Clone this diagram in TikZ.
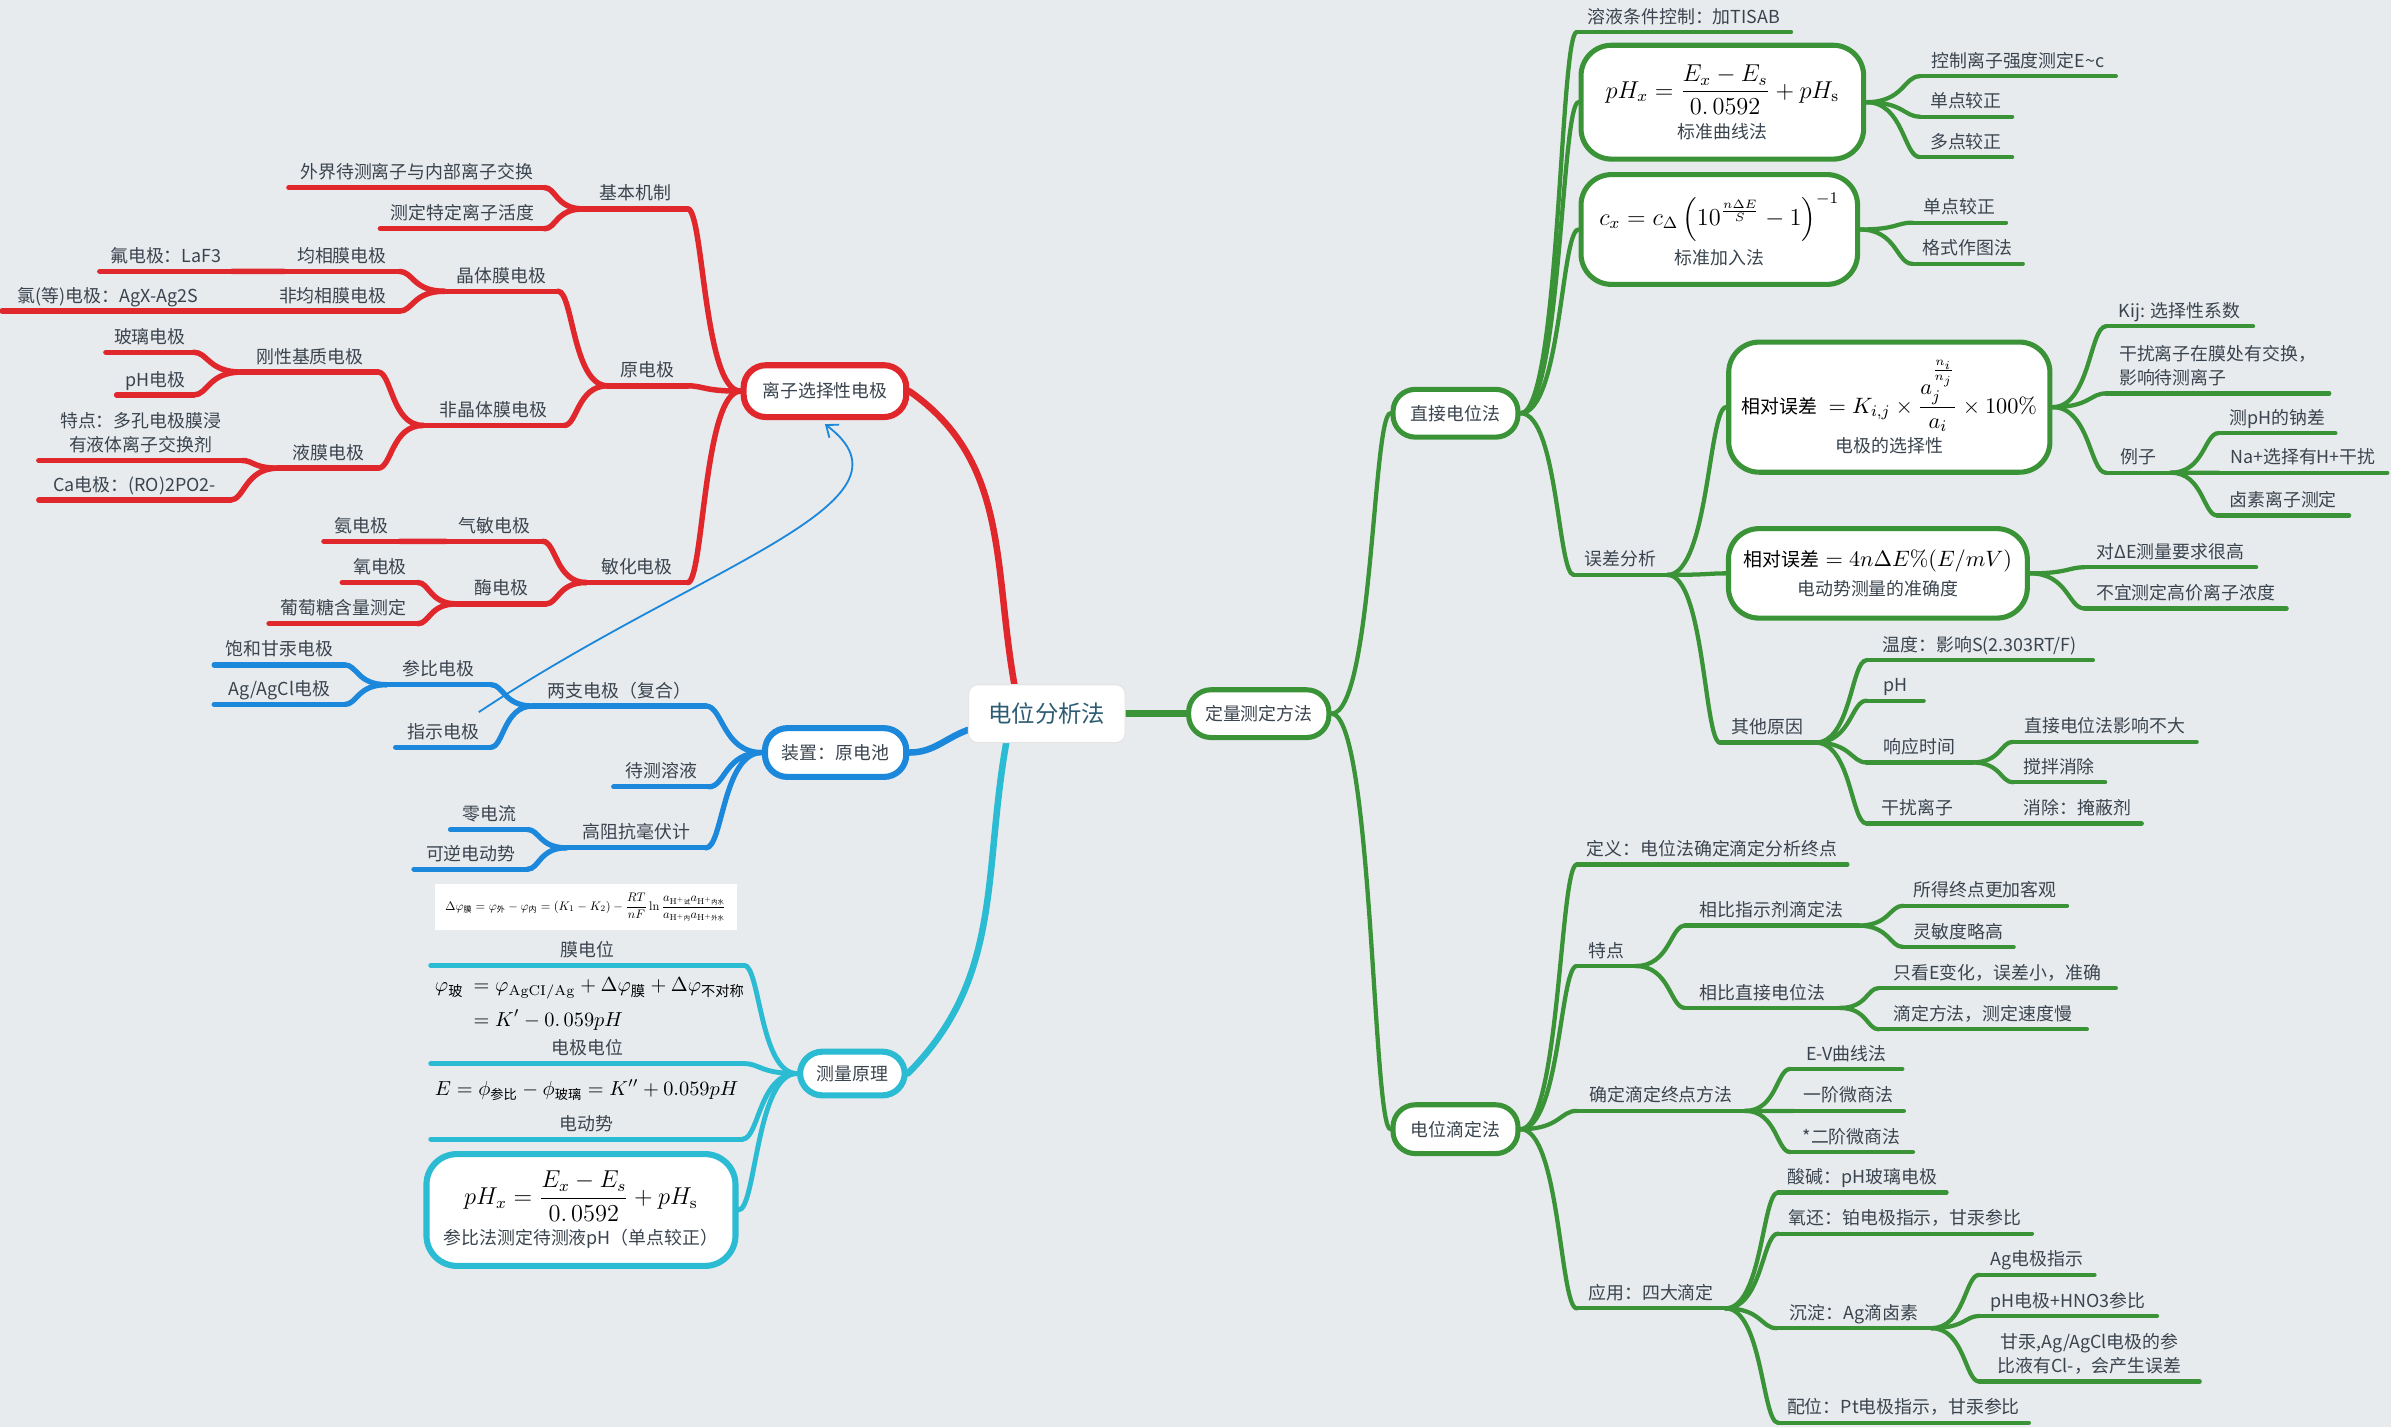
\documentclass[tikz,border=0pt]{standalone}
\usepackage[no-math]{fontspec}
\usepackage{amsmath}
\setmainfont{Noto Sans CJK SC}
\usetikzlibrary{arrows.meta,calc,backgrounds}
\definecolor{bgc}{HTML}{E8EBEE}
\definecolor{txt}{HTML}{3A444E}
\definecolor{ctxt}{HTML}{2D5B72}
\definecolor{myred}{HTML}{E0282C}
\definecolor{myblue}{HTML}{1C88DC}
\definecolor{mycyan}{HTML}{2BBBD2}
\definecolor{mygreen}{HTML}{3A9336}
\newcommand{\tpf}{\fontsize{8.8pt}{12pt}\selectfont}
\newcommand{\cjm}[1]{\mbox{\fontsize{9.3pt}{10pt}\selectfont #1}}
\newcommand{\cjs}[2][7pt]{\mbox{\fontsize{#1}{#1}\selectfont #2}}
\newcommand{\fml}[1]{\fontsize{#1}{14pt}\selectfont\color{black}}
% formulas
\newcommand{\fdphi}{\resizebox{138pt}{!}{\fontsize{10pt}{12pt}\selectfont$\displaystyle \Delta\varphi_{\cjs[6.5pt]{膜}}=\varphi_{\cjs[6.5pt]{外}}-\varphi_{\cjs[6.5pt]{内}}=(K_1-K_2)-\frac{RT}{nF}\ln\frac{a_{\mathrm{H^+}\cjs[5pt]{试}}a_{\mathrm{H^+}\cjs[5pt]{内水}}}{a_{\mathrm{H^+}\cjs[5pt]{内}}a_{\mathrm{H^+}\cjs[5pt]{外水}}}$}}
\newcommand{\fglass}{{\fml{10pt}$\begin{aligned}\varphi_{\cjs{玻}}\ &=\varphi_{\mathrm{AgCI/Ag}}+\Delta\varphi_{\cjs{膜}}+\Delta\varphi_{\cjs{不对称}}\\&=K'-0.\,059pH\end{aligned}$}}
\newcommand{\femf}{{\fml{9.8pt}$E=\phi_{\cjs[6.5pt]{参比}}-\phi_{\cjs[6.5pt]{玻璃}}=K''+0.059pH$}}
\newcommand{\fphx}{{\fml{12pt}$\displaystyle pH_x=\frac{E_x-E_s}{0.\,0592}+pH_{\mathrm{s}}$}}
\newcommand{\fadd}{{\fml{12pt}$\displaystyle c_x=c_\Delta\left(10^{\frac{n\Delta E}{S}}-1\right)^{-1}$}}
\newcommand{\fsel}{{\fml{11.3pt}$\displaystyle \cjm{相对误差}\ =K_{i,j}\times\frac{a_j^{\frac{n_i}{n_j}}}{a_i}\times100\%$}}
\newcommand{\facc}{{\fml{11pt}$\cjm{相对误差}=4n\Delta E\%(E/mV)$}}
\tikzset{
  tp/.style   ={font=\tpf,text=txt,inner xsep=3pt,inner ysep=2.6pt,
                text height=6.6pt,text depth=1.6pt},
  lt/.style   ={tp,anchor=south east},
  rt/.style   ={tp,anchor=south west},
  ml/.style   ={text height={},align=center},
  hub/.style  ={draw=#1,line width=3pt,fill=white,rounded corners=11pt,
                font=\tpf,text=txt,inner sep=2pt},
  fbox/.style ={draw=#1,line width=3pt,fill=white,rounded corners=15pt,
                align=center,font=\tpf,text=txt,inner sep=2pt},
  cnode/.style={fill=white,draw=black!10,line width=.6pt,rounded corners=4.5pt,
                minimum width=77pt,minimum height=28.5pt,
                font=\fontsize{11.5pt}{13pt}\selectfont,text=ctxt},
  lnk/.style  ={to path={.. controls ($(\tikztostart)!0.7!(\tikztotarget|-\tikztostart)$)
                and ($(\tikztostart|-\tikztotarget)!0.7!(\tikztotarget)$) .. (\tikztotarget)}},
  rl/.style   ={draw=myred,line width=2.7pt,line cap=round},
  bl/.style   ={draw=myblue,line width=2.6pt,line cap=round},
  cl/.style   ={draw=mycyan,line width=2.4pt,line cap=round},
  gl/.style   ={draw=mygreen,line width=2.1pt,line cap=round},
  arw/.style  ={draw=myblue,line width=.9pt,-{Straight Barb[length=5pt,width=8pt]}},
}

\begin{document}
\begin{tikzpicture}[x=0.75pt,y=-0.75pt]
  \useasboundingbox (0,0) rectangle (1568,936);

  % --- centre ---
  \node[cnode] (cn) at (686.5,468) {电位分析法};

  % --- red branch: ion selective electrodes ---
  \node[hub=myred,minimum width=80pt,minimum height=25.5pt] (r0) at (541,256.5) {离子选择性电极};
  \node[lt,minimum width=51pt] (r1) at (451,137) {基本机制};
  \node[lt,minimum width=125.25pt] (r11) at (357,123) {外界待测离子与内部离子交换};
  \node[lt,minimum width=80.25pt] (r12) at (357,150) {测定特定离子活度};
  \node[lt,minimum width=39pt] (r2) at (451,253) {原电极};
  \node[lt,minimum width=55.5pt] (r21) at (366,191) {晶体膜电极};
  \node[lt,minimum width=56.25pt] (r211) at (262,178) {均相膜电极};
  \node[lt,minimum width=64.5pt] (r2111) at (152,178) {氟电极：LaF3};
  \node[lt,minimum width=65.25pt] (r212) at (262,204) {非均相膜电极};
  \node[lt,minimum width=103.5pt] (r2121) at (140,204) {氯(等)电极：AgX-Ag2S};
  \node[lt,minimum width=69pt] (r22) at (370,279) {非晶体膜电极};
  \node[lt,minimum width=66.75pt] (r221) at (248,244) {刚性基质电极};
  \node[lt,minimum width=42.75pt] (r2211) at (127,231) {玻璃电极};
  \node[lt,minimum width=37.5pt] (r2212) at (127,259) {pH电极};
  \node[lt,minimum width=48.75pt] (r222) at (248,307) {液膜电极};
  \node[lt,ml,minimum width=99.75pt] (r2221) at (159,302) {特点：多孔电极膜浸\\有液体离子交换剂};
  \node[lt,minimum width=93.75pt] (r2222) at (151,328) {Ca电极：(RO)2PO2-};
  \node[lt,minimum width=49.5pt] (r3) at (451,382) {敏化电极};
  \node[lt,minimum width=47.25pt] (r31) at (356,355) {气敏电极};
  \node[lt,minimum width=36.75pt] (r311) at (262,355) {氨电极};
  \node[lt,minimum width=43.5pt] (r32) at (358,396) {酶电极};
  \node[lt,minimum width=36.75pt] (r321) at (274,382) {氧电极};
  \node[lt,minimum width=72.75pt] (r322) at (274,409) {葡萄糖含量测定};

  % --- blue branch: cell ---
  \node[hub=myblue,minimum width=69.5pt,minimum height=24pt] (b0) at (548,493.5) {装置：原电池};
  \node[lt,minimum width=84.75pt] (b1) at (463,463) {两支电极（复合）};
  \node[lt,minimum width=51pt] (b11) at (322,449) {参比电极};
  \node[lt,minimum width=63.75pt] (b111) at (226,436) {饱和甘汞电极};
  \node[lt,minimum width=63.75pt] (b112) at (226,462) {Ag/AgCl电极};
  \node[lt,minimum width=46.5pt] (b12) at (322,490) {指示电极};
  \node[lt,minimum width=46.5pt] (b2) at (465,516) {待测溶液};
  \node[lt,minimum width=68.25pt] (b3) at (463,556) {高阻抗毫伏计};
  \node[lt,minimum width=37.5pt] (b31) at (346,544) {零电流};
  \node[lt,minimum width=55.5pt] (b32) at (346,570) {可逆电动势};
  \coordinate (ast) at (314,467);

  % --- cyan branch: principle ---
  \node[hub=mycyan,minimum width=51.5pt,minimum height=21.5pt] (c0) at (559,704) {测量原理};
  \node[fill=white,inner sep=0pt,minimum width=148.5pt,minimum height=22.5pt] (cimg) at (384,595) {\fdphi};
  \node[lt,minimum width=153.75pt] (c1) at (488,633) {膜电位};
  \node[anchor=west,inner sep=0pt] (cf2) at (285,658) {\fglass};
  \node[lt,minimum width=153.75pt] (c2) at (488,697.5) {电极电位};
  \node[anchor=west,inner sep=0pt] (cf3) at (285,715) {\femf};
  \node[lt,minimum width=153pt] (c3) at (487,747) {电动势};
  \node[fbox=mycyan,minimum width=152pt,minimum height=55pt] (c4) at (381,793.5)
        {\fphx\\[3pt]参比法测定待测液pH（单点较正）};

  % --- green branch: quantitative methods ---
  \node[hub=mygreen,line width=2.5pt,minimum width=69pt,minimum height=23.5pt] (g0) at (825.5,468) {定量测定方法};
  \node[hub=mygreen,line width=2.5pt,minimum width=61.5pt,minimum height=23.5pt] (g1) at (954.5,271) {直接电位法};
  \node[hub=mygreen,line width=2.5pt,minimum width=61.5pt,minimum height=24pt] (g2) at (954.5,740.5) {电位滴定法};

  \node[rt,minimum width=105pt] (g11) at (1034,21) {溶液条件控制：加TISAB};
  \node[fbox=mygreen,line width=2.5pt,minimum width=139pt,minimum height=56pt] (g12) at (1129.5,67)
        {\fphx\\[3pt]标准曲线法};
  \node[rt,minimum width=96pt] (g121) at (1259,50) {控制离子强度测定E\textasciitilde c};
  \node[rt,minimum width=45pt] (g122) at (1259,76.5) {单点较正};
  \node[rt,minimum width=45pt] (g123) at (1259,103) {多点较正};
  \node[fbox=mygreen,line width=2.5pt,minimum width=136pt,minimum height=54pt] (g13) at (1127.5,150.5)
        {\fadd\\[3pt]标准加入法};
  \node[rt,minimum width=45.75pt] (g131) at (1254,146) {单点较正};
  \node[rt,minimum width=54pt] (g132) at (1254,173) {格式作图法};
  \node[rt,minimum width=45.75pt] (g14) at (1032,377) {误差分析};
  \node[fbox=mygreen,line width=2.5pt,minimum width=158pt,minimum height=64pt] (g141) at (1239,267)
        {\fsel\\[2pt]电极的选择性};
  \node[rt,minimum width=72pt] (g1411) at (1381,214) {Kij: 选择性系数};
  \node[rt,ml,align=left,minimum width=109.5pt] (g1412) at (1381,258) {干扰离子在膜处有交换，\\影响待测离子};
  \node[rt,minimum width=31.5pt] (g1413) at (1381,310) {例子};
  \node[rt,minimum width=57pt] (g14131) at (1455,284) {测pH的钠差};
  \node[rt,minimum width=82.5pt] (g14132) at (1455,310) {Na+选择有H+干扰};
  \node[rt,minimum width=64.5pt] (g14133) at (1454,338) {卤素离子测定};
  \node[fbox=mygreen,line width=2.5pt,minimum width=147pt,minimum height=44pt] (g142) at (1231.5,376)
        {\facc\\[2pt]电动势测量的准确度};
  \node[rt,minimum width=84pt] (g1421) at (1367,372) {对ΔE测量要求很高};
  \node[rt,minimum width=99pt] (g1422) at (1367,399) {不宜测定高价离子浓度};
  \node[rt,minimum width=46.5pt] (g143) at (1128,487) {其他原因};
  \node[rt,minimum width=111pt] (g1431) at (1224,433) {温度：影响S(2.303RT/F)};
  \node[rt,minimum width=27.75pt] (g1432) at (1224,459.5) {pH};
  \node[rt,minimum width=51.75pt] (g1433) at (1224,500) {响应时间};
  \node[rt,minimum width=90pt] (g14331) at (1320,486.5) {直接电位法影响不大};
  \node[rt,minimum width=45pt] (g14332) at (1320,513) {搅拌消除};
  \node[rt,minimum width=49.5pt] (g1434) at (1224,540) {干扰离子};
  \node[rt,minimum width=63pt] (g14341) at (1320,540) {消除：掩蔽剂};

  \node[rt,minimum width=132.75pt] (g21) at (1034,567) {定义：电位法确定滴定分析终点};
  \node[rt,minimum width=28.5pt] (g22) at (1034,633.5) {特点};
  \node[rt,minimum width=84.75pt] (g221) at (1105,607) {相比指示剂滴定法};
  \node[rt,minimum width=80.25pt] (g2211) at (1248,594) {所得终点更加客观};
  \node[rt,minimum width=54pt] (g2212) at (1248,621) {灵敏度略高};
  \node[rt,minimum width=75.75pt] (g222) at (1105,661) {相比直接电位法};
  \node[rt,minimum width=116.25pt] (g2221) at (1232,648) {只看E变化，误差小，准确};
  \node[rt,minimum width=102pt] (g2222) at (1232,675) {滴定方法，测定速度慢};
  \node[rt,minimum width=82.5pt] (g23) at (1034,728.5) {确定滴定终点方法};
  \node[rt,minimum width=54.75pt] (g231) at (1174,701) {E-V曲线法};
  \node[rt,minimum width=54pt] (g232) at (1176,728.5) {一阶微商法};
  \node[rt,minimum width=60pt] (g233) at (1174,755.5) {*二阶微商法};
  \node[rt,minimum width=72.75pt] (g24) at (1034,858) {应用：四大滴定};
  \node[rt,minimum width=82.5pt] (g241) at (1166,782) {酸碱：pH玻璃电极};
  \node[rt,minimum width=124.5pt] (g242) at (1166,809) {氧还：铂电极指示，甘汞参比};
  \node[rt,minimum width=75.75pt] (g243) at (1165,871) {沉淀：Ag滴卤素};
  \node[rt,minimum width=56.25pt] (g2431) at (1298,836) {Ag电极指示};
  \node[rt,minimum width=87pt] (g2432) at (1298,863) {pH电极+HNO3参比};
  \node[rt,ml,minimum width=108pt] (g2433) at (1298,906) {甘汞,Ag/AgCl电极的参\\比液有Cl-，会产生误差};
  \node[rt,minimum width=123pt] (g244) at (1166,933) {配位：Pt电极指示，甘汞参比};

  % --- lines behind the nodes ---
  \begin{scope}[on background layer]
    \fill[bgc] (0,0) rectangle (1568,936);
    % main branches
    \draw[rl,line width=3.2pt] (r0.east) to[out=-35,in=100] ([xshift=-16pt]cn.north);
    \draw[bl,line width=3.2pt] (b0.east) to[out=0,in=-160] ([yshift=-8pt]cn.west);
    \draw[cl,line width=3.2pt] (c0.east) to[out=45,in=-100] ([xshift=-20pt]cn.south);
    \draw[gl,line width=3.2pt] (cn.east) -- (g0.west);

    % red
    \foreach \n in {r1,r11,r12,r2,r21,r211,r2111,r212,r2121,r22,r221,r2211,r2212,
                    r222,r2221,r2222,r3,r31,r311,r32,r321,r322}
      \draw[rl] (\n.south west) -- (\n.south east);
    \foreach \b in {r1,r2,r3} \draw[rl] (r0.west) to[lnk] (\b.south east);
    \foreach \a/\b in {r1/r11,r1/r12,r2/r21,r2/r22,r21/r211,r21/r212,r211/r2111,r212/r2121,
                       r22/r221,r22/r222,r221/r2211,r221/r2212,r222/r2221,r222/r2222,
                       r3/r31,r3/r32,r31/r311,r32/r321,r32/r322}
      \draw[rl] (\a.south west) to[lnk] (\b.south east);

    % blue
    \foreach \n in {b1,b11,b111,b112,b12,b2,b3,b31,b32}
      \draw[bl] (\n.south west) -- (\n.south east);
    \foreach \b in {b1,b2,b3} \draw[bl] (b0.west) to[lnk] (\b.south east);
    \foreach \a/\b in {b1/b11,b1/b12,b11/b111,b11/b112,b3/b31,b3/b32}
      \draw[bl] (\a.south west) to[lnk] (\b.south east);

    % cyan
    \foreach \n in {c1,c2,c3}
      \draw[cl] (\n.south west) -- (\n.south east);
    \foreach \b in {c1,c2,c3} \draw[cl] (c0.west) to[lnk] (\b.south east);
    \draw[cl] (c0.west) to[lnk] (c4.east);

    % green
    \foreach \n in {g11,g121,g122,g123,g131,g132,g14,g1411,g1412,g1413,g14131,g14132,g14133,
                    g1421,g1422,g143,g1431,g1432,g1433,g14331,g14332,g1434,g14341,
                    g21,g22,g221,g2211,g2212,g222,g2221,g2222,g23,g231,g232,g233,
                    g24,g241,g242,g243,g2431,g2432,g2433,g244}
      \draw[gl] (\n.south west) -- (\n.south east);
    \foreach \b in {g1,g2} \draw[gl] (g0.east) to[lnk] (\b.west);
    \draw[gl] (g1.east) to[lnk] (g11.south west);
    \draw[gl] (g1.east) to[lnk] (g12.west);
    \draw[gl] (g1.east) to[lnk] (g13.west);
    \draw[gl] (g1.east) to[lnk] (g14.south west);
    \draw[gl] (g14.south east) to[lnk] (g141.west);
    \draw[gl] (g14.south east) to[lnk] (g142.west);
    \foreach \a/\b in {g12.east/g121,g12.east/g122,g12.east/g123,g13.east/g131,g13.east/g132,
                       g14.south east/g143,g141.east/g1411,g141.east/g1412,g141.east/g1413,
                       g1413.south east/g14131,g1413.south east/g14132,g1413.south east/g14133,
                       g142.east/g1421,g142.east/g1422,
                       g143.south east/g1431,g143.south east/g1432,g143.south east/g1433,
                       g143.south east/g1434,g1433.south east/g14331,g1433.south east/g14332,
                       g1434.south east/g14341,
                       g2.east/g21,g2.east/g22,g2.east/g23,g2.east/g24,
                       g22.south east/g221,g22.south east/g222,
                       g221.south east/g2211,g221.south east/g2212,
                       g222.south east/g2221,g222.south east/g2222,
                       g23.south east/g231,g23.south east/g232,g23.south east/g233,
                       g24.south east/g241,g24.south east/g242,g24.south east/g243,g24.south east/g244,
                       g243.south east/g2431,g243.south east/g2432,g243.south east/g2433}
      \draw[gl] (\a) to[lnk] (\b.south west);
  \end{scope}

  % reference arrow
  \draw[arw] (ast) .. controls (460,370) and (610,330) .. ([yshift=-2pt]r0.south);
\end{tikzpicture}
\end{document}
